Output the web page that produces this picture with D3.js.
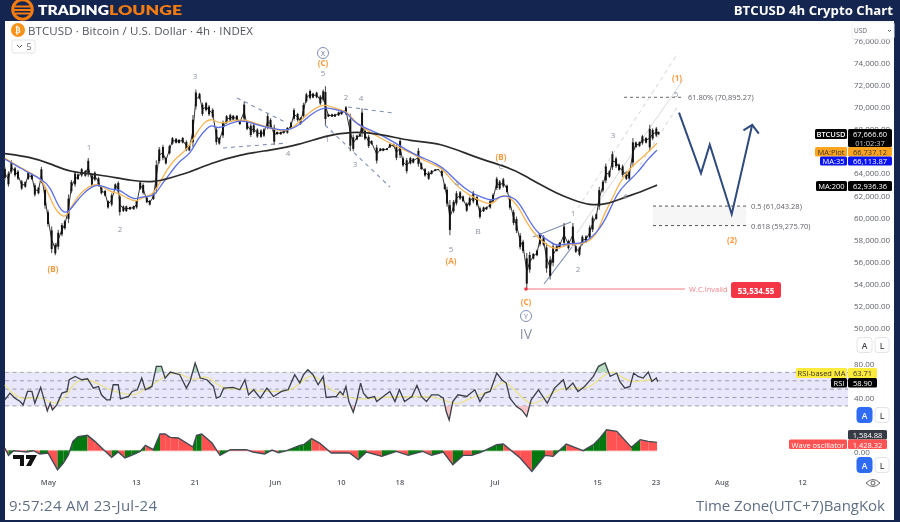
<!DOCTYPE html>
<html><head><meta charset="utf-8">
<style>html,body{margin:0;padding:0;background:#14264f}svg{display:block;filter:blur(0.42px)}text{font-family:"Open Sans","Liberation Sans",sans-serif}</style>
<script src="https://cdnjs.cloudflare.com/ajax/libs/d3/7.8.5/d3.min.js"></script>
</head><body><svg id="c" width="900" height="522"></svg>
<script>
// Time is in days since 1 May 2024; prices are in USD thousands.
const barDay=[-5.9,-5.4,-5,-4.5,-4.1,-3.6,-3.1,-2.7,-2.2,-1.8,-1.3,-.9,-.4,0,.5,1,1.4,1.9,2.3,2.8,3.2,3.7,4.1,4.6,5.1,5.5,6,6.4,6.9,7.3,7.8,8.2,8.7,9.2,9.6,9.8,10.3,10.7,11.2,11.7,12.1,12.6,13,13.5,13.9,14.4,14.8,15.2,15.7,16.1,16.6,17,17.5,17.9,18.4,18.9,19.3,19.8,20.2,20.7,21.1,21.6,22,22.5,23,23.4,23.9,24.4,24.9,25.3,25.8,26.2,26.8,27.2,27.7,28.1,28.6,29.1,29.5,30,30.4,30.9,31.3,31.8,32.2,32.7,33.2,33.6,34.1,34.5,34.9,35.3,35.8,36.2,36.7,37.2,37.6,37.9,38.3,38.8,39.2,39.7,40.1,40.7,41.3,41.7,42.2,42.6,42.9,43.3,43.8,44.2,44.9,45.4,45.8,46.3,46.7,47.2,47.6,48.1,48.5,49,49.5,49.9,50.6,51,51.5,52,52.4,52.9,53.3,53.8,54.2,54.5,54.9,55.4,55.8,56.3,56.7,57.2,57.6,58.1,58.6,59,59.5,59.9,60.4,60.8,61.3,61.7,62.2,62.7,63.1,63.6,64,64.5,64.9,65.4,65.8,66.3,66.8,67.2,67.7,68.1,68.6,69,69.5,69.9,70.5,71.1,71.7,72.1,72.6,73,73.5,74,74.4,74.9,75.3,75.8,76.2,76.7,77.1,77.6,78,78.5,79,79.4,79.9,80.3,80.8,81.2,81.7,82.2,82.6,83.1,83.4];
const barHigh=[64.6,64.2,65.2,64.6,64.3,63.4,63.3,64.2,64,63.1,62.8,64.6,62.8,60.7,59.2,57.7,58.9,59.5,59.8,62.1,63.4,64.2,64,64.5,64.3,65.4,64,64.2,63.7,62.8,62.5,61.6,62.2,63.1,63.3,62.2,61.1,61.1,61,61.1,61.6,63.3,63.1,61.9,61.6,62.2,65.2,66.4,66.6,65.5,66.6,67.3,67.2,67.1,67.3,67,66.6,69.3,71.6,71.3,70.4,70.5,70.2,69.9,68.2,67.3,68.8,69.3,69.4,69.3,69.3,68.8,70.5,68.8,68.5,68.5,68.1,68,68.1,69.4,69,68.4,67.8,67.8,68,68.2,68.7,69.9,69.5,69.1,70.4,71.3,71.6,71.3,71.4,71.1,71.6,71.9,69.4,69.4,69.4,69.6,69.7,70.1,69.4,67.5,67.5,67.6,69.9,68,67.5,67,66.6,66.3,66.3,66.3,66.7,66.7,66.6,67.2,65.5,65.4,65.5,65.4,66.3,65,64.5,64.2,64.3,64.4,64.4,64.3,63.1,62.8,61.6,61.6,62.4,62.4,62,61.4,61.9,62.4,62,61,61,61,61.6,62.2,63.7,63.4,63.6,63,62,60.7,60.1,58.6,58,56.8,56.9,56.8,57.1,58.6,58.4,57.7,56.5,57.7,57.5,57.8,59.5,58,59.5,57.5,57.4,58.4,58.4,59.3,60.2,60.4,62.8,63.4,64.9,64.3,66,65.5,64.9,64.8,64.2,64.3,67.2,66.9,66.9,67.5,67.3,68.4,68.1,68.2,67.8];
const barLow=[63.4,62.8,64,63.7,63.4,62.5,62.7,63.4,63.4,61.9,62.1,63.1,60.8,59.2,56.8,56.6,57.1,58.3,58.9,59.5,62.2,62.8,63.4,63.7,63.7,63.7,62.8,63.3,62.8,62.1,61.9,60.8,61,62.5,62.2,60.2,60.5,60.5,60.7,60.7,60.8,62.5,62.1,61.3,61.1,61.6,62.2,64.9,65.2,64.8,65.7,66.6,66.7,66.7,66.7,66,66,66.4,69.8,70.7,69.2,69.6,69.2,69,66.6,66.6,67.2,68.5,68.7,68.8,68.7,68.4,68.7,67.9,67.3,67.6,67.2,67.2,67.3,68,68,66.6,67.5,67.5,67.6,67.6,68,68.8,68.7,68.4,69,70.4,70.7,70.8,70.8,70.2,70.5,68.4,69.1,69.1,69.1,69.2,69.3,69.3,66,66,67,67.3,67.3,67,66.3,66.6,64.9,66,66,66.1,66.3,66.4,65.2,65.4,64.6,64,64.8,64.9,64.6,64.3,63.7,63.4,63.9,64.2,64.3,63.7,62.5,61,58.4,60.4,61.1,61.6,61.4,60.5,61,61.3,61,59.9,60.5,60.7,60.8,61.3,62.5,62.5,62.7,62.2,60.7,59.3,58.6,57.1,56.8,53.53,55,56.2,56.5,57.4,57.4,55,54.4,55.6,56.9,57.2,57.4,57.1,57.4,56.8,56.5,57.5,57.7,58,58.7,59.8,60.7,62.3,63.1,63.6,64.3,64.5,64.2,63.7,63.4,63.4,64.6,66.3,66.4,66.6,66.7,66,67,67.3,67.5];
const maBlackDay=[-5.9,-2.5,.3,3,7.1,11.6,14.6,16.7,19.4,22.1,26.2,30.3,34.4,37.8,41.3,45.4,49.5,53.6,58.1,62.7,64.9,67.2,69.5,71.7,74,76.4,78.6,80.9,83.2];
const maBlackVal=[65.8,65.5,64.9,64.1,63.9,63.3,63.2,63.6,64.1,64.9,65.7,66.1,66.6,67.4,67.8,67.6,66.9,66.8,65.5,64.6,63.9,63,62.2,61.6,61.1,61.2,61.8,62.3,62.94];
const maBlueDay=[-5.9,-3.8,-2.5,-.7,.3,1.2,2,2.7,3.7,4.8,6,6.8,8.1,8.9,9.6,10.8,11.9,12.8,13.7,14.6,15.6,16.7,18,19.4,20.5,21.7,22.4,23.1,23.9,25.8,27.2,28.6,30.3,32.7,34.4,35.8,37.7,39.5,40.8,41.7,43,44.9,47.1,49,50.8,53.1,54.5,55.9,57.6,59.4,60.7,61.7,62.8,64.2,65.4,66.8,68.6,69.5,71.3,73.1,75,76.4,77.7,79.1,80.5,81.8,83.2];
const maBlueVal=[65.3,64.5,64,63.4,62.8,61.3,60.5,60.4,61.3,62.2,62.8,63,62.7,62.5,62.6,62,61.6,61.9,61.9,62,63.1,64,65.2,65.7,67.2,68.1,68.4,68.1,68.2,68.8,68.7,68.4,68.1,67.8,68.4,69.3,70.1,69.7,69.6,68.7,68.2,67.7,66.9,66.1,65.5,64.9,64.2,63.2,62.3,61.8,61.5,61.9,62,61.6,60.1,58.6,57.8,57.4,57.7,57.6,58.6,60.1,62.2,63.2,64,65.2,66.11];
const maOrangeDay=[-5.9,-4.8,-2,-.7,0,1,1.9,2.6,3.4,4.8,6.1,7.1,8.5,9.8,10.9,12.2,13,14.3,15.3,16.4,17.6,19,20.4,21.4,22.4,23.5,25.8,27.2,29,31.3,32.8,34.4,35.8,37.7,39.5,41,41.9,43.6,45.4,47.7,49.5,51.8,53.6,54.5,55.9,57.6,59.4,60.7,61.7,62.8,64.2,65.4,66.8,68.6,69.5,71.3,73.1,75,75.8,77,78.1,79.5,81.3,83.2];
const maOrangeVal=[65.4,64.9,63.9,63.4,62.2,60.7,60.1,60.1,61.3,62.5,63,63,62.3,62.2,61.7,61.4,61.9,62,63.2,64.5,65.5,66.1,67.8,68.7,69,68.4,68.9,68.8,68.4,67.9,67.8,68.7,69.6,70.4,69.8,69.6,68.6,67.9,67.2,66.4,65.9,65,64.6,63.9,62.8,62,61.4,61.1,62,62,61.1,59.5,58.2,57.3,57.1,57.7,57.5,58.4,60.1,61.6,63.2,64.5,65.5,66.74];
const rsiDay=[-5.9,-5.2,-4.5,-3.8,-3.4,-2.8,-2.2,-1.8,-1,-.4,-.1,.3,.6,1.2,1.9,2.6,2.9,3.7,4.6,5.4,6.2,6.9,7.3,8,8.5,8.9,9.6,9.9,11,11.5,12.2,12.8,13.3,14.2,14.8,15.5,16,16.7,18,18.9,19.4,20.1,20.8,21.7,22.6,23,23.5,24,25.3,26.2,26.9,27.4,28.1,29,29.9,30.8,31.9,32.8,33.7,34.4,34.9,35.5,36.2,36.9,37.6,38,39.4,39.9,40.3,40.7,41.1,41.7,42.2,42.7,43.1,43.7,44.6,44.9,45.8,46.7,47.4,48,48.7,49.7,50.4,51,51.7,52.4,53.3,54,54.4,54.8,55.3,56,57.2,58.3,59,59.7,60.4,61.3,62,62.6,63.1,64,64.7,65.4,66,67,68.2,69.2,70.4,70.8,71.7,72.4,73.3,74.5,75.2,76.1,76.8,77.7,78.1,78.8,79.5,80,80.6,81.3,82,82.5,83.1,83.3];
const rsiVal=[37.2,45.2,39.2,35.2,31.2,47.2,47.2,33.2,52,33.2,24,33.2,25.2,31.2,45.2,47.2,61.2,65.2,61.2,62.4,51.2,53.2,43.2,37.2,37.2,55.2,55.2,38.4,41.2,47.2,49.2,63.2,49.2,53.2,77.2,77.2,63.2,70.4,67.2,51.2,59.2,81.2,63.2,61.2,53.2,39.2,41.2,51.2,52,49.2,61.2,43.2,49.2,39.2,51.2,41.2,47.2,49.2,67.2,57.2,67.2,73.2,67.2,55.2,65.2,40,41.2,47.2,43.2,53.2,35.2,22.4,37.2,57.2,45.2,39.2,41.2,35.2,41.2,47.2,35.2,49.2,35.2,41.2,54.4,41.2,35.2,43.2,43.2,39.2,23.2,13.2,35.2,43.2,41.2,49.2,35.2,45.2,47.2,69.2,61.2,57.2,39.2,29.2,25.2,17.2,37.2,49.2,33.2,51.2,61.2,49.2,57.2,47.2,53.2,65.2,77.2,81.2,65.2,69.2,59.2,51.2,53.2,69.2,65.2,63.2,70.4,59.2,63.2,58.9];
const rsiMaDay=[-5.9,-4.7,-3.4,-1.5,-.2,1.2,2.6,3.7,5.3,7.1,8.9,10.3,11.7,13,14.8,16.7,18.5,19.9,21.7,23,24.4,26.2,29,30.8,33.1,34.4,35.8,36.7,38,39.9,42.1,44.4,48.1,50.3,52.6,54,55.8,57.2,59,60.4,61.7,62.6,64,65.8,67.6,69.5,71.3,73.1,74.5,75.4,77.2,78.1,80,81.3,82.7];
const rsiMaVal=[55.2,43.2,37.2,41.2,37.2,30.4,43.2,59.2,63.2,55.2,47.2,45.2,41.2,49.2,57.2,71.2,67.2,59.2,68,55.2,49.2,51.2,47.2,47.2,47.2,57.2,67.2,65.2,53.2,43.2,37.2,39.2,41.2,41.2,41.2,37.2,30.4,37.2,43.2,47.2,57.2,59.2,47.2,29.2,37.2,49.2,53.2,49.2,55.2,63.2,73.2,65.2,57.2,61.2,61.2];
const waveDay=[-5.9,-5.4,-4.7,-3.8,-2.9,-2,-1.1,0,1.3,2.1,2.8,3.4,4.1,5.4,6.4,7.6,8.7,9.6,10.5,11.4,12.6,13.3,14.4,15.3,16,16.7,17.8,19.8,20.3,21,22.4,23.5,24.9,27.1,28,29.6,30.6,31.5,32.6,34.4,34.9,36,37.1,38.7,41.2,42.4,43.5,45.6,47.6,49.2,51.2,52.4,54,55.3,56.7,57.9,59.2,61.3,62.2,64.5,66.1,67.9,69,70.8,72.4,73.1,74.5,75.4,76.3,77.7,79.7,80.9,82,83.2];
const waveVal=[460,-805,0,-115,-230,0,-575,-400,-3280,-2130,-690,1610,2415,2645,1610,170,-1150,-230,-1265,-805,-115,920,170,2875,2875,2300,2185,630,2645,2875,1320,-805,170,170,-230,-575,115,-345,0,920,1035,2070,1320,-400,-400,-1550,-230,-980,-115,-805,-115,-805,-230,-2415,-805,-805,-230,1035,1150,-1265,-3565,-805,-980,1150,345,0,1035,2185,3620,3335,575,1900,1610,1428];
const projDay=[86.2,89.2,90.4,93.4,96.2];
const projPrice=[69.5,64,66.6,60.3,68.4];
const arrowDay=[95,96.2,97.1];
const arrowPrice=[67.9,68.4,67.6];
const priceTicks=[50,52,54,56,58,60,62,64,68,70,72,74,76];
const rsiTicks=[40,80];
const rsiBand=[30,40,50,60,70];
const xTickDays=[0,12,20,31,40,48,61,75,83,92,103];
const xTickLabels=["May","13","21","Jun","10","18","Jul","15","23","Aug","12"];
const fib={high:70.89527,mid:61.04328,low:59.2757,invalid:53.53455};
const waveLabels=[["1",89,146],["2",120,228],["3",195,75],["4",288,152],["5",323,72],["1",327,138],["2",346,96],["4",361,97],["3",355,163],["5",451,248],["B",478,230],["C",501,165],["4",457,182],["1",573,212],["2",578,268],["3",613,134],["4",625,195],["5",676,93]];
const orangeLabels=[["(C)",323,62],["(B)",53,268],["(A)",451,260],["(B)",501,156],["(C)",526,301],["(1)",677,77],["(2)",732,239]];

const svg=d3.select("#c");
const x=d3.scaleLinear().domain([0,103]).range([48,802]);
const y=d3.scaleLinear().domain([50,74]).range([328,63]);
const yR=d3.scaleLinear().domain([40,80]).range([397.5,364]);
const yW=d3.scaleLinear().domain([0,1000]).range([450.7,444.9]);
const NAVY="#14264f",GREY="#8b93a3",ORG="#fb9a3e",AX="#5d6168",SL="#7e8fb3";

svg.append("rect").attr("width",900).attr("height",522).attr("fill",NAVY);
svg.append("rect").attr("x",5).attr("y",21).attr("width",889).attr("height",499).attr("fill","#fff");

function T(s,px,py,o={}){return svg.append("text").text(s).attr("x",px).attr("y",py)
 .attr("font-size",o.fs||8).attr("fill",o.c||AX).attr("font-weight",o.w||400)
 .attr("text-anchor",o.a||"middle").attr("dominant-baseline","central")
 .attr("style",o.f?`font-family:${o.f}`:null);}
function L(a,b,c,d,col,w,dash){return svg.append("line").attr("x1",a).attr("y1",b).attr("x2",c).attr("y2",d).attr("stroke",col).attr("stroke-width",w).attr("stroke-dasharray",dash||null);}

// Header logo and title
svg.append("circle").attr("cx",22.5).attr("cy",9.5).attr("r",9.8).attr("fill",NAVY).attr("stroke","#f47b10").attr("stroke-width",3);
[[15,5.5,15],[13.5,9,18],[15,12.5,15]].forEach(d=>svg.append("rect").attr("x",d[0]).attr("y",d[1]).attr("width",d[2]).attr("height",2).attr("fill","#f47b10"));
T("TRADING",38,9.5,{a:"start",c:"#fff",w:800,fs:13,f:"Lato"}).attr("textLength",71).attr("lengthAdjust","spacingAndGlyphs");
T("LOUNGE",109,9.5,{a:"start",c:"#f47b10",w:800,fs:13,f:"Lato"}).attr("textLength",73).attr("lengthAdjust","spacingAndGlyphs");
T("BTCUSD 4h Crypto Chart",893,10,{a:"end",c:"#fff",w:700,fs:13.2});

// Symbol header
svg.append("circle").attr("cx",18).attr("cy",30).attr("r",7).attr("fill","#f7931a");
T("₿",18,30.5,{c:"#fff",fs:8,w:700,f:"DejaVu Sans"});
T("BTCUSD · Bitcoin / U.S. Dollar · 4h · INDEX",28,30.5,{a:"start",fs:11.5,c:"#50565f"}).attr("textLength",225);
svg.append("rect").attr("x",12).attr("y",40).attr("width",23).attr("height",13).attr("rx",2).attr("fill","#fff").attr("stroke","#e2e4e8");
svg.append("path").attr("d","M17 45l2.5 2.5L22 45").attr("fill","none").attr("stroke","#555").attr("stroke-width",1);
T("5",29,46.5,{fs:8.5});

// Price axis
const ya=svg.append("g").attr("transform","translate(850,0)").call(d3.axisRight(y).tickValues(priceTicks).tickSize(0).tickPadding(4).tickFormat(v=>d3.format(",.2f")(v*1000)));
ya.select(".domain").remove();ya.selectAll("text").attr("font-size",8).attr("fill",AX).attr("style",'font-family:"Open Sans"');
svg.append("rect").attr("x",852).attr("y",22).attr("width",42).attr("height",17).attr("rx",2).attr("fill","#fff").attr("stroke","#eef0f3");
T("USD",854,30.5,{a:"start",fs:6.5});
svg.append("path").attr("d","M888 30l1.5 1.5L891 30").attr("fill","none").attr("stroke","#555");

// Fibonacci levels and projected zone
svg.append("rect").attr("x",653).attr("y",y(fib.mid)).attr("width",93).attr("height",y(fib.low)-y(fib.mid)).attr("fill","#f6f6f6");
L(624,y(fib.high),683,y(fib.high),"#666",1,"3 3");
L(653,y(fib.mid),746,y(fib.mid),"#555",1,"3 3");
L(653,y(fib.low),746,y(fib.low),"#555",1,"3 3");
T("61.80% (70,895.27)",688,y(fib.high),{a:"start",fs:7.5});
T("0.5 (61,043.28)",751,y(fib.mid),{a:"start",fs:7.5});
T("0.618 (59,275.70)",751,y(fib.low),{a:"start",fs:7.5});

// Wave channels and wedges
L(578,208,678,53,"#cfd2d8",1,"4 4");
L(640,165,678,106,"#cfd2d8",1,"4 4");
L(577,233,683,80,"#d6d8dc",1);
L(237,98,287,123,SL,1.1,"4 4");L(223,148,287,143,SL,1.1,"4 4");
L(325,125,390,187,SL,1.1,"4 4");L(348,107,393,113,SL,1.1,"4 4");
L(533,237,571,222,SL,1.1);L(544,284,572,247,SL,1.1);

// Candles
const wd=barDay.map((d,i)=>({d,h:barHigh[i],l:barLow[i]}));
svg.append("path").attr("d",d3.line().x(b=>x(b.d)).y(b=>y((b.h+b.l)/2))(wd)).attr("fill","none").attr("stroke","#333").attr("stroke-width",1);
svg.append("g").selectAll("line").data(wd).join("line").attr("x1",b=>x(b.d)).attr("x2",b=>x(b.d)).attr("y1",b=>y(b.h)).attr("y2",b=>y(b.l)).attr("stroke","#555").attr("stroke-width",1.1);
svg.append("g").selectAll("line").data(wd).join("line").attr("x1",b=>x(b.d)).attr("x2",b=>x(b.d)).attr("y1",b=>y(b.h-(b.h-b.l)*.15)).attr("y2",b=>y(b.l+(b.h-b.l)*.15)).attr("stroke","#111").attr("stroke-width",2);

// Moving averages
function MA(ds,vs,col,w){svg.append("path").attr("d",d3.line().curve(d3.curveBasis).x((d,i)=>x(ds[i])).y((d,i)=>y(vs[i]))(ds)).attr("fill","none").attr("stroke",col).attr("stroke-width",w);}
MA(maOrangeDay,maOrangeVal,"#f8b452",1.3);
MA(maBlueDay,maBlueVal,"#5a6ee6",1.3);
MA(maBlackDay,maBlackVal,"#2b2b2b",1.7);

// Projection arrow
svg.append("path").attr("d",d3.line().x((d,i)=>x(projDay[i])).y((d,i)=>y(projPrice[i]))(projDay)).attr("fill","none").attr("stroke","#2f4a7d").attr("stroke-width",2);
svg.append("path").attr("d",d3.line().x((d,i)=>x(arrowDay[i])).y((d,i)=>y(arrowPrice[i]))(arrowDay)).attr("fill","none").attr("stroke","#2f4a7d").attr("stroke-width",2);

// Invalidation line
L(526,y(fib.invalid),685,y(fib.invalid),"#f7a6ac",1.4);
svg.append("circle").attr("cx",526).attr("cy",y(fib.invalid)).attr("r",1.8).attr("fill","#f23645");
T("W.C.Invalid",689,y(fib.invalid),{a:"start",c:"#f4848d",fs:7.5});
svg.append("rect").attr("x",731).attr("y",282).attr("width",50).attr("height",16).attr("rx",2.5).attr("fill","#f23645");
T("53,534.55",756,290.5,{c:"#fff",fs:8,w:700});

// Wave labels
waveLabels.forEach(d=>T(d[0],d[1],d[2],{c:GREY,fs:8}));
orangeLabels.forEach(d=>T(d[0],d[1],d[2],{c:ORG,fs:8,w:700}));
[["X",323,53],["Y",526,316]].forEach(d=>{svg.append("circle").attr("cx",d[1]).attr("cy",d[2]).attr("r",5.5).attr("fill","none").attr("stroke",SL).attr("stroke-width",1);T(d[0],d[1],d[2]+.5,{c:"#5c6f96",fs:7});});
T("IV",526,333,{c:GREY,fs:14});

// Scale side-labels
function box(a,b,w,h,fill,txt,col,fw){svg.append("rect").attr("x",a).attr("y",b).attr("width",w).attr("height",h).attr("rx",1.5).attr("fill",fill);if(txt)T(txt,a+w/2,b+h/2+.3,{c:col,fs:7.5,w:fw||400});}
box(815,129,32,10,"#000","BTCUSD","#fff",600);
box(848,129,44,18,"#000",null);
T("67,666.60",870,133.6,{c:"#fff",fs:7.5});T("01:02:37",870,142.6,{c:"#ccc",fs:7.5});
box(815,147,32,9.5,"#ffa51f","MA:Plot","#333");box(848,147,44,9.5,"#ffa51f","66,737.12","#333");
box(820,156.5,27,9,"#0a14f0","MA:35","#fff");box(848,156.5,44,9,"#0a14f0","66,113.87","#fff");
box(816,181,31,10,"#000","MA:200","#fff");box(848,181,44,10,"#000","62,936.36","#fff");

// RSI panel
svg.append("rect").attr("x",5).attr("y",yR(70)).attr("width",843).attr("height",yR(30)-yR(70)).attr("fill","#e8e7fb");
rsiBand.forEach(v=>L(5,yR(v),848,yR(v),"#9c9cab",1,"4 3.5"));
const rd=rsiDay.map((d,i)=>({d,v:rsiVal[i]}));
const defs=svg.append("defs");
defs.append("clipPath").attr("id","up").append("rect").attr("x",0).attr("y",0).attr("width",900).attr("height",yR(70));
defs.append("clipPath").attr("id","dn").append("rect").attr("x",0).attr("y",yR(30)).attr("width",900).attr("height",200);
svg.append("path").attr("clip-path","url(#up)").attr("fill","#b8dcc0").attr("d",d3.area().x(r=>x(r.d)).y0(yR(70)).y1(r=>yR(r.v))(rd));
svg.append("path").attr("clip-path","url(#dn)").attr("fill","#f6c4c6").attr("d",d3.area().x(r=>x(r.d)).y0(yR(30)).y1(r=>yR(r.v))(rd));
svg.append("path").attr("d",d3.line().curve(d3.curveBasis).x((d,i)=>x(rsiMaDay[i])).y((d,i)=>yR(rsiMaVal[i]))(rsiMaDay)).attr("fill","none").attr("stroke","#ece48c").attr("stroke-width",1.3);
svg.append("path").attr("d",d3.line().x(r=>x(r.d)).y(r=>yR(r.v))(rd)).attr("fill","none").attr("stroke","#3a3f4a").attr("stroke-width",1.3);
const yra=svg.append("g").attr("transform","translate(850,0)").call(d3.axisRight(yR).tickValues(rsiTicks).tickSize(0).tickPadding(4).tickFormat(d3.format(".2f")));
yra.select(".domain").remove();yra.selectAll("text").attr("font-size",8).attr("fill",AX).attr("style",'font-family:"Open Sans"');
box(796,368,51,10,"#ffeb3b","RSI-based MA","#333");box(848,368,29,10,"#ffeb3b","63.71","#333");
box(831,378,16,9.5,"#000","RSI","#fff");box(848,378,29,9.5,"#000","58.90","#fff");

// Wave oscillator panel
const wv=waveDay.map((d,i)=>({d,v:waveVal[i]}));
const wg=svg.append("g");
wv.slice(1).forEach((p,i)=>{const a=wv[i],up=p.v>a.v;
 wg.append("path").attr("fill",up?"#00780f":"#ff5252").attr("d",d3.area().x(r=>x(r.d)).y0(yW(0)).y1(r=>yW(r.v))([a,p]));
 L(x(a.d),yW(0),x(p.d),yW(0),up?"#3f9a3f":"#ff8f8f",1);});
svg.append("path").attr("d",d3.line().x(r=>x(r.d)).y(r=>yW(r.v))(wv)).attr("fill","none").attr("stroke","#444a55").attr("stroke-width",1.4);
T("0.00",854,451.5,{a:"start"});
box(848,430,39,9.5,"#363a45","1,584.88","#fff");
box(789,439.5,58,9.5,"#ff5252","Wave oscillator","#fff");box(848,439.5,39,9.5,"#ff5252","1,428.32","#fff");

// A / L scale buttons
[345,415,465].forEach((b,i)=>{
 svg.append("rect").attr("x",857).attr("y",b-7.5).attr("width",15).attr("height",15).attr("rx",3).attr("fill",i?"#2f6bf5":"#fff").attr("stroke",i?"#2f6bf5":"#e2e4e8");
 T("A",864.5,b+.5,{c:i?"#fff":"#444",fs:8.5,w:600});
 svg.append("rect").attr("x",875).attr("y",b-7.5).attr("width",14).attr("height",15).attr("rx",3).attr("fill","#fff").attr("stroke","#e2e4e8");
 T("L",882,b+.5,{c:"#555",fs:8.5,w:600});
});

// Time axis
const xa=svg.append("g").attr("transform","translate(0,479.5)").call(d3.axisBottom(x).tickValues(xTickDays).tickSize(0).tickPadding(0).tickFormat((d,i)=>xTickLabels[i]));
xa.select(".domain").remove();xa.selectAll("text").attr("font-size",7.5).attr("fill",AX).attr("font-weight",600).attr("style",'font-family:"Open Sans"');
svg.append("path").attr("d","M866 483q7-7 14 0q-7 7-14 0z").attr("fill","none").attr("stroke","#666").attr("stroke-width",1);
svg.append("circle").attr("cx",873).attr("cy",483).attr("r",2).attr("fill","none").attr("stroke","#666");

// TradingView mark
svg.append("path").attr("d","M13 455h11v11h-4v-7h-7zM26 455h11l-6 11h-5l4-7h-4z").attr("fill","#111");

// Footer
T("9:57:24 AM 23-Jul-24",9,505,{a:"start",fs:15,c:"#5f6f85"}).attr("textLength",148);
T("Time Zone(UTC+7)BangKok",885,505,{a:"end",fs:15,c:"#5f6f85"}).attr("textLength",189);
</script></body></html>
